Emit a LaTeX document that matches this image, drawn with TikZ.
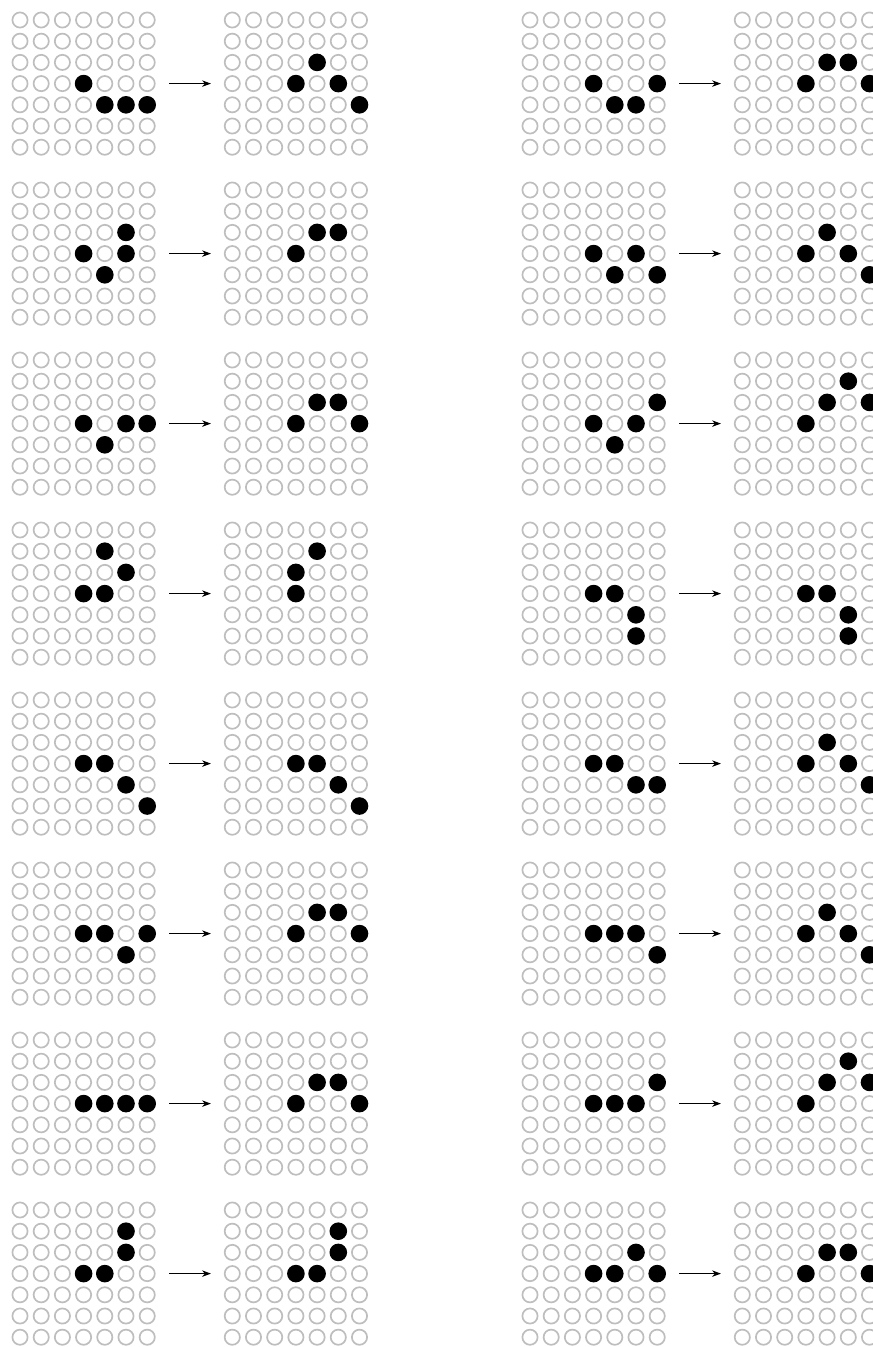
\documentclass[tikz,border=0pt]{standalone}
\usetikzlibrary{arrows.meta}
\definecolor{ringgray}{RGB}{190,190,190}
\tikzset{
  cell/.style={circle,draw=ringgray,line width=1.7pt,minimum size=15.2pt,inner sep=0pt,outer sep=0pt},
  on/.style={circle,fill=black,minimum size=17.6pt,inner sep=0pt,outer sep=0pt},
  arr/.style={line width=1.4pt,-{Stealth[length=9pt,width=6.5pt,inset=3pt]}}
}
\newcommand\drawgrid[4]{%
  \foreach \r in {0,...,6}{\foreach \c in {0,...,6}{%
    \node[cell] (#1-\r-\c) at ({#2+\c*21.2},{#3+\r*21.2}) {};}}%
  \foreach \r/\c in {#4}{\node[on] (#1-\r-\c-on) at (#1-\r-\c) {};}%
}
% #1 panel name, #2 x0, #3 y0, #4 input cells, #5 output cells
\newcommand\panel[5]{%
  \drawgrid{#1i}{#2}{#3}{#4}%
  \drawgrid{#1o}{#2+212.3}{#3}{#5}%
  \coordinate (#1s) at ({#2+149},{#3+63.6});
  \coordinate (#1e) at ({#2+191},{#3+63.6});
  \draw[arr] (#1s) -- (#1e);
}
\begin{document}
\begin{tikzpicture}[x=1pt,y=-1pt]
\useasboundingbox (0,0) rectangle (873,1347);
\panel{p1L}{20}{20}{3/3,4/4,4/5,4/6}{2/4,3/3,3/5,4/6}
\panel{p1R}{530}{20}{3/3,3/6,4/4,4/5}{2/4,2/5,3/3,3/6}
\panel{p2L}{20}{190}{2/5,3/3,3/5,4/4}{2/4,2/5,3/3}
\panel{p2R}{530}{190}{3/3,3/5,4/4,4/6}{2/4,3/3,3/5,4/6}
\panel{p3L}{20}{360}{3/3,3/5,3/6,4/4}{2/4,2/5,3/3,3/6}
\panel{p3R}{530}{360}{2/6,3/3,3/5,4/4}{1/5,2/4,2/6,3/3}
\panel{p4L}{20}{530}{1/4,2/5,3/3,3/4}{1/4,2/3,3/3}
\panel{p4R}{530}{530}{3/3,3/4,4/5,5/5}{3/3,3/4,4/5,5/5}
\panel{p5L}{20}{700}{3/3,3/4,4/5,5/6}{3/3,3/4,4/5,5/6}
\panel{p5R}{530}{700}{3/3,3/4,4/5,4/6}{2/4,3/3,3/5,4/6}
\panel{p6L}{20}{870}{3/3,3/4,3/6,4/5}{2/4,2/5,3/3,3/6}
\panel{p6R}{530}{870}{3/3,3/4,3/5,4/6}{2/4,3/3,3/5,4/6}
\panel{p7L}{20}{1040}{3/3,3/4,3/5,3/6}{2/4,2/5,3/3,3/6}
\panel{p7R}{530}{1040}{2/6,3/3,3/4,3/5}{1/5,2/4,2/6,3/3}
\panel{p8L}{20}{1210}{1/5,2/5,3/3,3/4}{1/5,2/5,3/3,3/4}
\panel{p8R}{530}{1210}{2/5,3/3,3/4,3/6}{2/4,2/5,3/3,3/6}
\end{tikzpicture}
\end{document}
